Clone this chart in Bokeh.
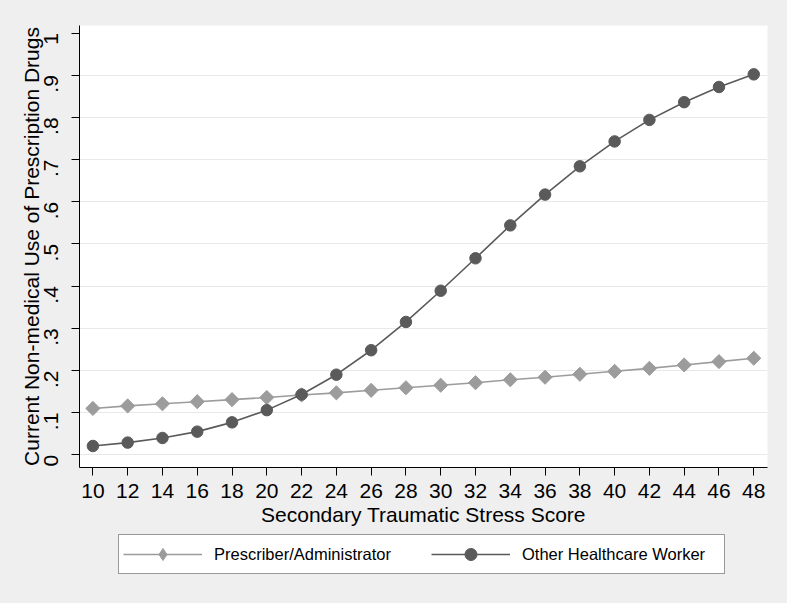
from bokeh.plotting import figure
from bokeh.layouts import column
from bokeh.models import (FixedTicker, CustomJSTickFormatter, Legend, LegendItem, Range1d, ColumnDataSource)
from bokeh.embed import file_html
from bokeh.resources import INLINE
import math

# data
scores = [10, 12, 14, 16, 18, 20, 22, 24, 26, 28, 30, 32, 34, 36, 38, 40, 42, 44, 46, 48]
prescriber = [0.110, 0.116, 0.121, 0.126, 0.131, 0.136, 0.142, 0.147, 0.153, 0.159,
              0.165, 0.171, 0.178, 0.184, 0.191, 0.198, 0.205, 0.213, 0.221, 0.229]
other = [0.021, 0.029, 0.040, 0.055, 0.077, 0.106, 0.143, 0.190, 0.248, 0.315,
         0.389, 0.466, 0.544, 0.617, 0.684, 0.743, 0.794, 0.836, 0.872, 0.902]
y_ticks = [0, 0.1, 0.2, 0.3, 0.4, 0.5, 0.6, 0.7, 0.8, 0.9, 1.0]
grid_ticks = [0, 0.1, 0.2, 0.3, 0.4, 0.5, 0.6, 0.7, 0.8, 0.9]
series_names = ["Prescriber/Administrator", "Other Healthcare Worker"]

FONT = "Liberation Sans"
BG = "#efefef"
C_LIGHT = "#9c9c9c"
C_DARK = "#5a5a5a"

src = ColumnDataSource(dict(x=scores, a=prescriber, b=other))

p = figure(frame_width=688, frame_height=442, output_backend="svg", toolbar_location=None,
           x_range=Range1d(9.23, 48.79), y_range=Range1d(-0.030, 1.0178),
           min_border_left=79, min_border_right=20, min_border_top=25, min_border_bottom=63)
p.background_fill_color = "white"
p.border_fill_color = BG
p.outline_line_color = None

p.line("x", "a", source=src, line_color=C_LIGHT, line_width=1.6)
p.scatter("x", "a", source=src, marker="square", angle=math.pi / 4, size=10,
          fill_color=C_LIGHT, line_color=C_LIGHT)
p.line("x", "b", source=src, line_color=C_DARK, line_width=1.6)
p.scatter("x", "b", source=src, marker="circle", size=11.5, fill_color=C_DARK, line_color=C_DARK)

# axes
p.xaxis.ticker = FixedTicker(ticks=scores)
p.xaxis.axis_label = "Secondary Traumatic Stress Score"
p.yaxis.ticker = FixedTicker(ticks=y_ticks)
p.yaxis.axis_label = "Current Non-medical Use of Prescription Drugs"
p.yaxis.formatter = CustomJSTickFormatter(code="""
if (Math.abs(tick) < 1e-9) return "0";
if (Math.abs(tick - 1) < 1e-9) return "1";
return tick.toFixed(1).replace(/^0/, "");
""")
p.yaxis.major_label_orientation = math.pi / 2
for ax in (p.xaxis[0], p.yaxis[0]):
    ax.axis_line_color = "black"
    ax.axis_line_width = 1
    ax.major_tick_line_color = "black"
    ax.major_tick_in = 0
    ax.major_tick_out = 8
    ax.minor_tick_line_color = None
    ax.major_label_text_font = FONT
    ax.major_label_text_font_size = "21px"
    ax.major_label_text_color = "black"
    ax.axis_label_text_font = FONT
    ax.axis_label_text_font_size = "21px"
    ax.axis_label_text_font_style = "normal"
    ax.axis_label_text_color = "black"
p.xaxis.major_label_standoff = 8
p.xaxis.axis_label_standoff = 2
p.yaxis.major_label_standoff = 20
p.yaxis.axis_label_standoff = -8

p.xgrid.grid_line_color = None
p.ygrid.ticker = FixedTicker(ticks=grid_ticks)
p.ygrid.grid_line_color = "#e8e8e8"
p.ygrid.grid_line_width = 1.2

# legend panel (its own small figure, glyphs kept outside its view)
lf = figure(width=787, height=73, output_backend="svg", toolbar_location=None,
            x_range=Range1d(1000, 1001), y_range=Range1d(1000, 1001),
            x_axis_type=None, y_axis_type=None,
            min_border_left=0, min_border_right=0, min_border_top=0, min_border_bottom=0)
lf.background_fill_color = BG
lf.border_fill_color = BG
lf.outline_line_color = None
lf.xgrid.visible = False
lf.ygrid.visible = False
lf.styles = {"background-color": BG}
l1 = lf.line("x", "a", source=src, line_color=C_LIGHT, line_width=1.6)
m1 = lf.scatter("x", "a", source=src, marker="diamond", size=12, fill_color=C_LIGHT, line_color=C_LIGHT)
l2 = lf.line("x", "b", source=src, line_color=C_DARK, line_width=1.6)
m2 = lf.scatter("x", "b", source=src, marker="circle", size=12, fill_color=C_DARK, line_color=C_DARK)

legend = Legend(items=[LegendItem(label=series_names[0], renderers=[l1, m1]),
                       LegendItem(label=series_names[1], renderers=[l2, m2])],
                orientation="horizontal", location=(39, 29))
legend.label_text_font = FONT
legend.label_text_font_size = "16.5px"
legend.label_text_color = "black"
legend.glyph_width = 79
legend.glyph_height = 30
legend.label_standoff = 12
legend.label_width = 198
legend.spacing = 19
legend.padding = 4
legend.margin = 0
legend.border_line_color = "#333333"
legend.border_line_width = 1.2
legend.background_fill_color = "white"
legend.background_fill_alpha = 1
lf.add_layout(legend, "center")

layout = column(p, lf, spacing=0)
layout.styles = {"background-color": BG}
open("out.html", "w").write(file_html(layout, INLINE))
